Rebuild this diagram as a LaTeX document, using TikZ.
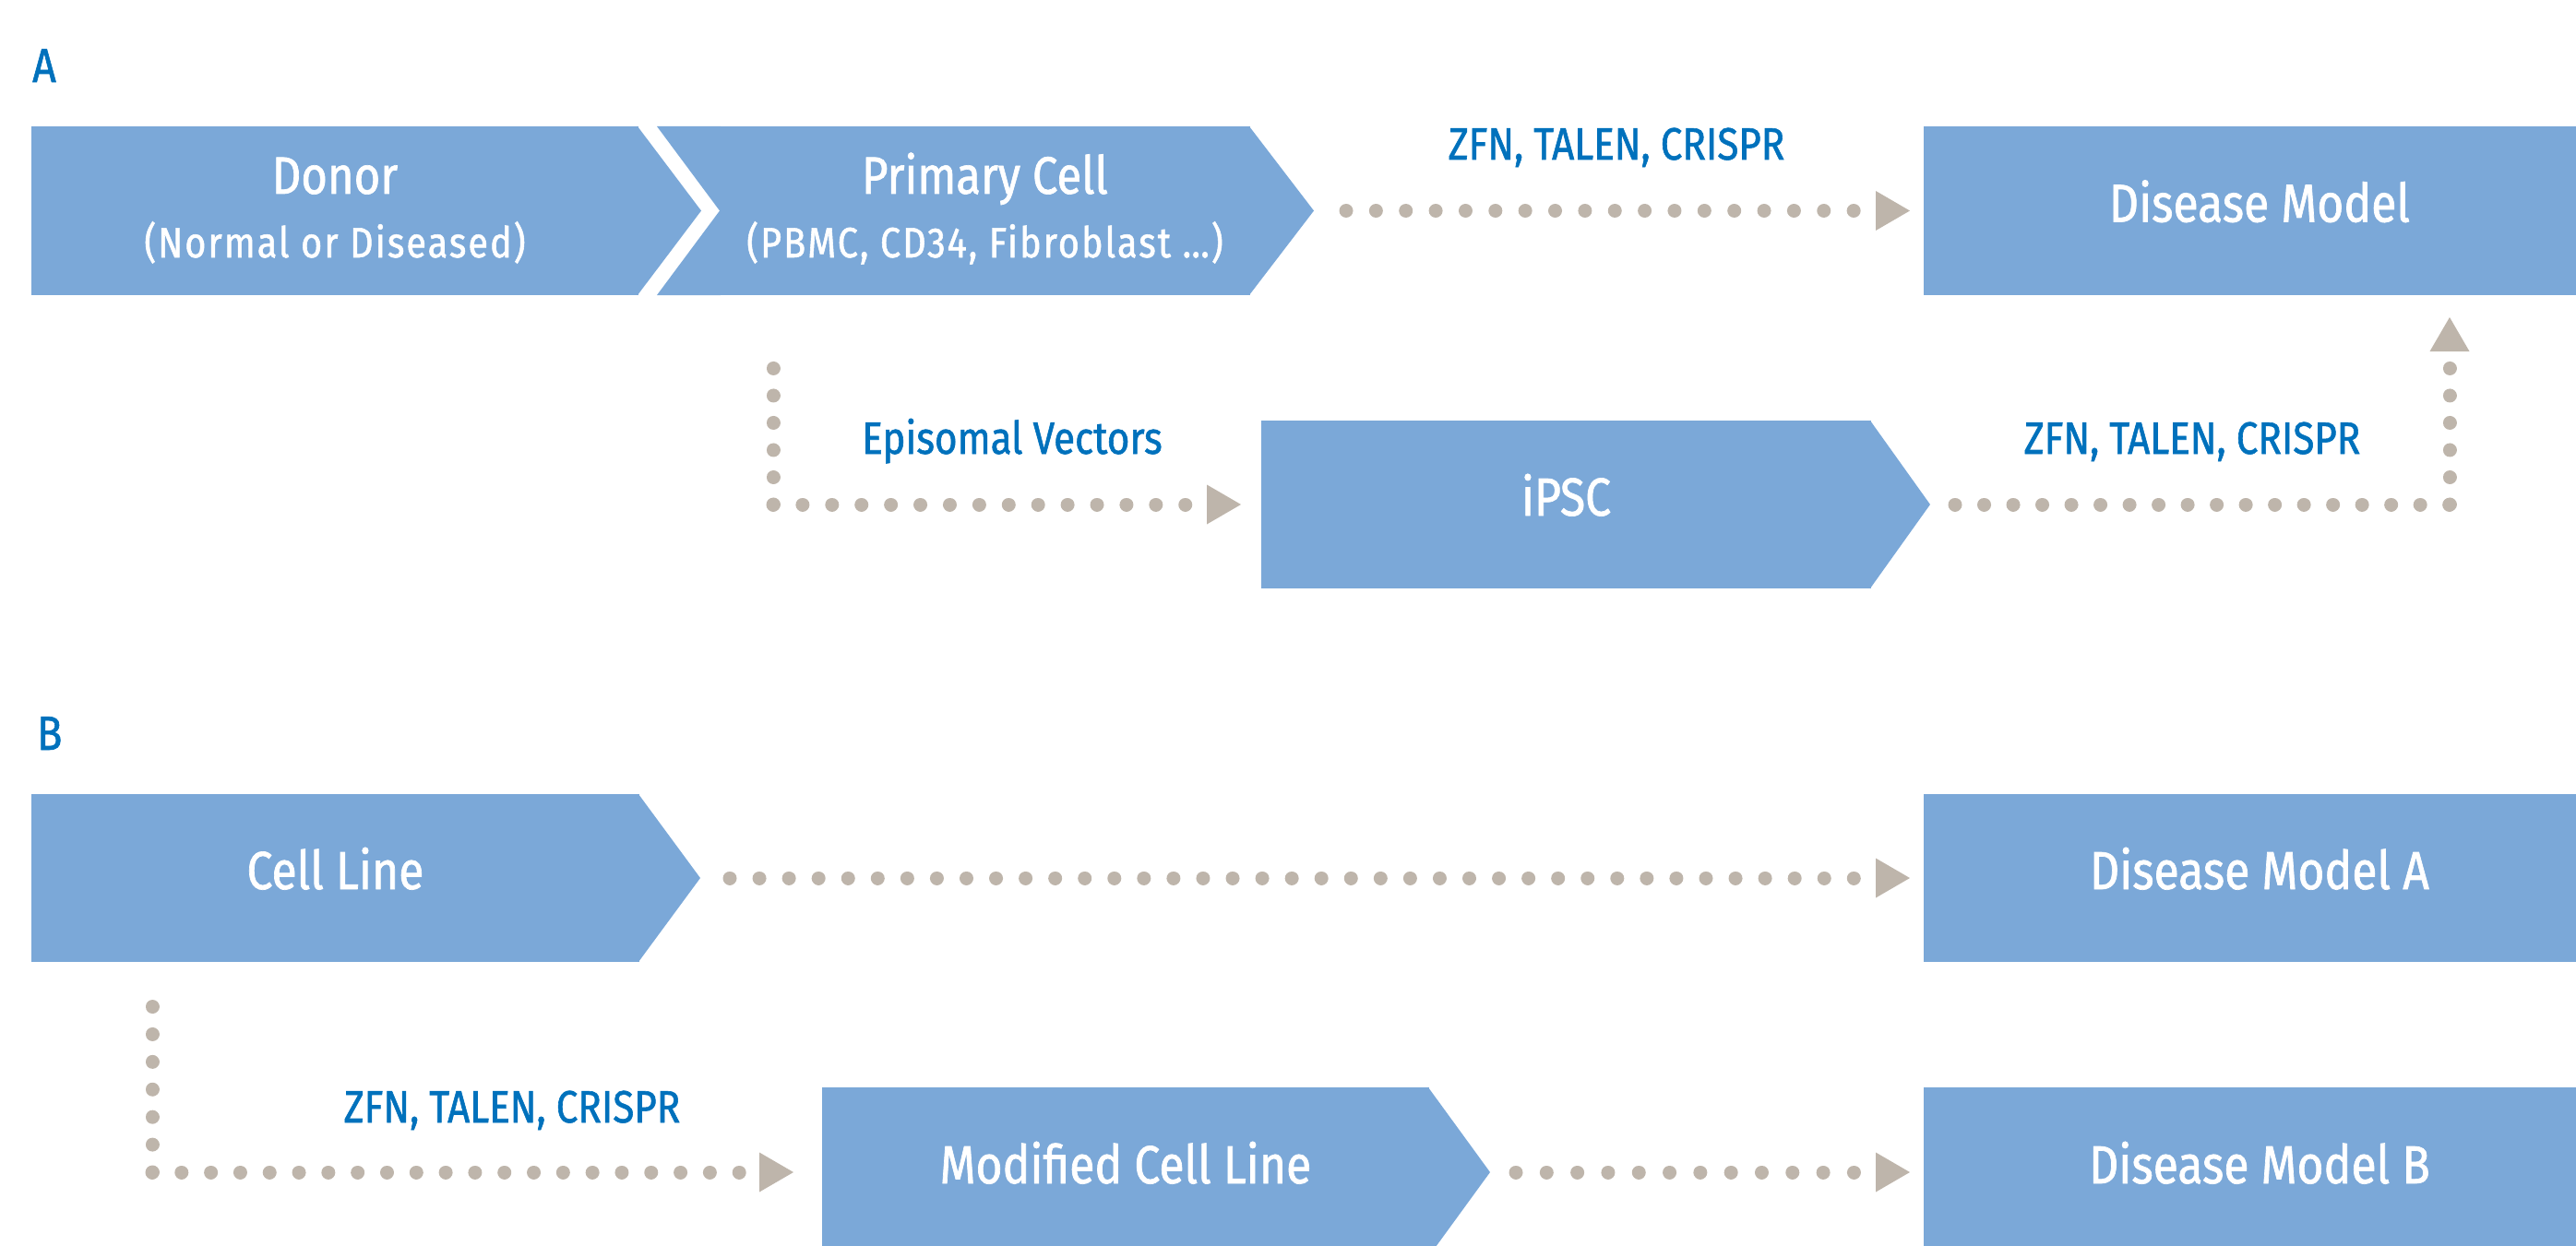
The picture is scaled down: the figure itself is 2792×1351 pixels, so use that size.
\documentclass[tikz,border=0pt]{standalone}
\usepackage{fontspec}
\setmainfont[FakeStretch=0.86, FakeBold=1.2]{Fira Sans}
\usetikzlibrary{arrows.meta,calc}
\definecolor{boxblue}{RGB}{123,168,216}
\definecolor{labelblue}{RGB}{0,113,188}
\definecolor{dotgray}{RGB}{190,181,171}

\begin{document}
\begin{tikzpicture}[x=1pt,y=-1pt,
  box/.style={fill=boxblue, inner sep=0pt, outer sep=0pt, text=white,
    font=\fontsize{58}{70}\selectfont, text height=40pt, text depth=16pt},
  boxtitle/.style={text=white, inner sep=0pt, anchor=base, font=\fontsize{57}{68}\selectfont},
  boxnote/.style={text=white, inner sep=0pt, anchor=base,
    font=\fontsize{46}{55}\selectfont\addfontfeature{LetterSpace=4.5}},
  steplabel/.style={text=labelblue, inner sep=0pt, anchor=base, font=\fontsize{49}{59}\selectfont},
  panel/.style={text=labelblue, inner sep=0pt, anchor=base west, font=\fontsize{52}{62}\selectfont},
  dotline/.style={draw=dotgray, line width=15pt, line cap=round, dash pattern=on 0.01pt off #1},
  dotline/.default=32pt,
  arrowtip/.style={-{Triangle[length=37pt,width=43pt,line width=0pt]}}
]
\useasboundingbox (0,0) rectangle (2792,1351);
\clip (0,0) rectangle (2792,1351);

% ---------- A ----------
\node[panel] (panel-a) at (35,89) {A};

% Donor
\node[box, minimum width=658pt, minimum height=183pt] (donor) at (363,228.5) {};
\fill[boxblue] ($(donor.north east)+(-1,0)$) -- ($(donor.east)+(68,0)$) -- ($(donor.south east)+(-1,0)$) -- cycle;
\node[boxtitle] (donor-name) at ($(donor.center)+(0,-18.5)$) {Donor};
\node[boxnote] (donor-note) at ($(donor.center)+(0,50.5)$) {(Normal or Diseased)};

% Primary cell (notched on the left)
\node[box, minimum width=575pt, minimum height=183pt] (primary) at (1067.5,228.5) {};
\fill[boxblue] ($(primary.north west)+(1,0)$) -- ++(-69,0) -- (primary.west) -- cycle;
\fill[boxblue] ($(primary.south west)+(1,0)$) -- ++(-69,0) -- (primary.west) -- cycle;
\fill[boxblue] ($(primary.north east)+(-1,0)$) -- ($(primary.east)+(69,0)$) -- ($(primary.south east)+(-1,0)$) -- cycle;
\node[boxtitle] (primary-name) at ($(primary.center)+(0,-18.5)$) {Primary Cell};
\node[boxnote] (primary-note) at ($(primary.center)+(0,50.5)$) {(PBMC, CD34, Fibroblast …)};

% Disease model
\node[box, minimum width=728pt, minimum height=183pt] (dm) at (2449,228.5) {Disease Model};

% iPSC
\node[box, minimum width=661pt, minimum height=182pt] (ipsc) at (1697.5,547) {iPSC};
\fill[boxblue] ($(ipsc.north east)+(-1,0)$) -- ($(ipsc.east)+(64,0)$) -- ($(ipsc.south east)+(-1,0)$) -- cycle;

% connectors of A
\draw[dotline=32.35, arrowtip, shorten >=15pt] ($(primary.east)+(104,0)$) -- (dm.west);
\node[steplabel] (lab-a1) at (1752,173) {ZFN, TALEN, CRISPR};

\coordinate (c2) at (838,547);
\draw[dotline=29.5] (c2) -- ($(c2 |- primary.south)+(0,50)$);
\draw[dotline=31.9, arrowtip, shorten >=22pt] (c2) -- (ipsc.west);
\node[steplabel] (lab-ev) at (1097,492) {Episomal Vectors};

\coordinate (c3) at (2655,547);
\draw[dotline=31.5] ($(ipsc.east)+(91,0)$) -- (c3);
\draw[dotline=29.5, arrowtip, shorten >=24pt] (c3) -- (c3 |- dm.south);
\node[steplabel] (lab-a2) at (2376,492) {ZFN, TALEN, CRISPR};

% ---------- B ----------
\node[panel] (panel-b) at (40,813) {B};

\node[box, minimum width=659pt, minimum height=182pt] (cellline) at (363.5,952) {Cell Line};
\fill[boxblue] ($(cellline.north east)+(-1,0)$) -- ($(cellline.east)+(66,0)$) -- ($(cellline.south east)+(-1,0)$) -- cycle;

\node[box, minimum width=728pt, minimum height=182pt] (dma) at (2449,952) {Disease Model A};

\node[box, minimum width=658pt, minimum height=184pt] (modline) at (1220,1271) {Modified Cell Line};
\fill[boxblue] ($(modline.north east)+(-1,0)$) -- ($(modline.east)+(66,0)$) -- ($(modline.south east)+(-1,0)$) -- cycle;

\node[box, minimum width=728pt, minimum height=184pt] (dmb) at (2449,1271) {Disease Model B};

% connectors of B
\draw[dotline=32.05, arrowtip, shorten >=15pt] ($(cellline.east)+(98,0)$) -- (dma.west);

\coordinate (c5) at (165,1271);
\draw[dotline=29.9] (c5) -- ($(c5 |- cellline.south)+(0,48)$);
\draw[dotline=31.8, arrowtip, shorten >=31pt] (c5) -- (modline.west);
\node[steplabel] (lab-b) at (555,1217) {ZFN, TALEN, CRISPR};

\draw[dotline=33.3, arrowtip, shorten >=15pt] ($(modline.east)+(94,0)$) -- (dmb.west);
\end{tikzpicture}
\end{document}
